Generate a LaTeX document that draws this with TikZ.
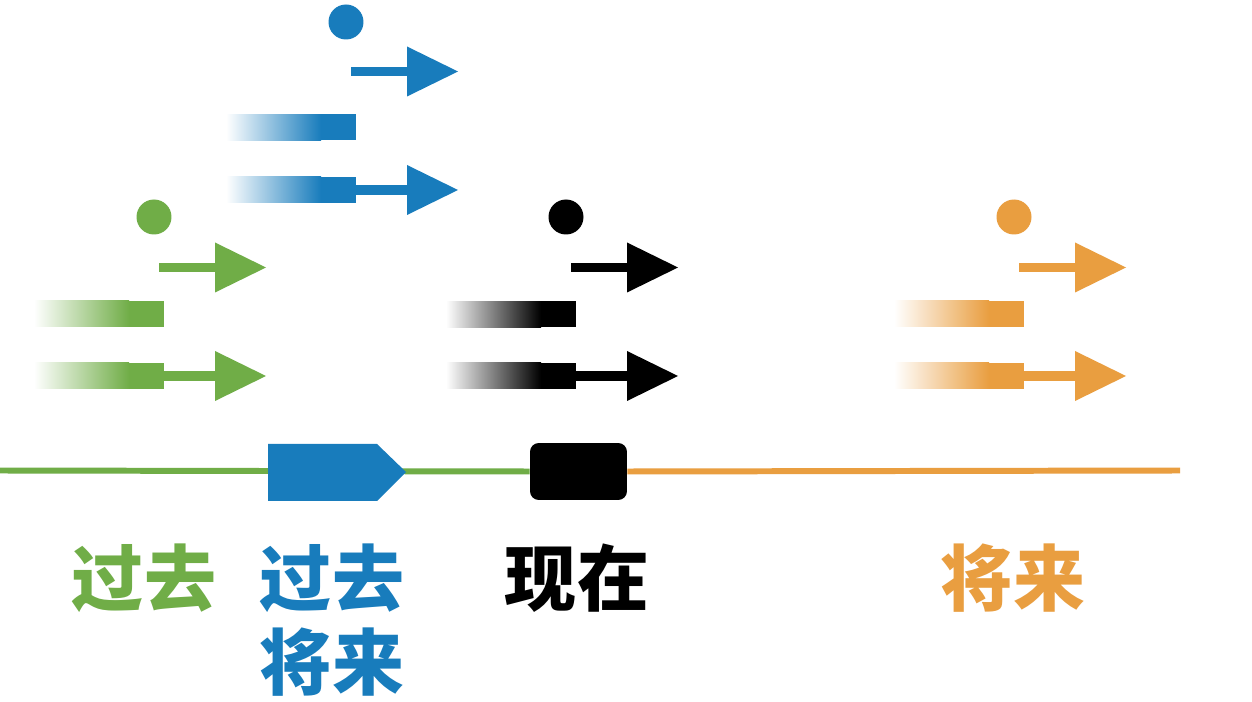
\documentclass[tikz,border=0pt]{standalone}
\usepackage{fontspec}
\newfontfamily\cjk{Noto Sans CJK SC}
\definecolor{pgreen}{RGB}{112,173,71}
\definecolor{pblue}{RGB}{24,124,188}
\definecolor{porange}{RGB}{233,158,64}
\newcommand\tgroup[6]{% colour, bar right x, dot y, top arrow y, bar y, bottom arrow y
  \fill[#1] (#2-10,#3) circle[radius=0.35cm];
  \fill[#1] (#2-5,#4-4.5) rectangle (#2+52,#4+4.5);
  \fill[#1] (#2+51,#4-25) -- (#2+102,#4) -- (#2+51,#4+25) -- cycle;
  \shade[left color=white,right color=#1] (#2-130,#5-13) rectangle (#2-35,#5+13);
  \fill[#1] (#2-35.5,#5-13) rectangle (#2,#5+13);
  \shade[left color=white,right color=#1] (#2-130,#6-13) rectangle (#2-35,#6+13);
  \fill[#1] (#2-35.5,#6-13) rectangle (#2,#6+13);
  \fill[#1] (#2-1,#6-5) rectangle (#2+52,#6+5);
  \fill[#1] (#2+51,#6-25) -- (#2+102,#6) -- (#2+51,#6+25) -- cycle;
}
\tikzset{
  lab/.style={font=\cjk\bfseries\fontsize{41}{47.6}\selectfont, inner sep=0pt, align=center},
  tl/.style={line width=3.4pt},
}
\begin{document}
\begin{tikzpicture}[x=0.02cm,y=-0.02cm]
\useasboundingbox[fill=white] (0,0) rectangle (1252,702);
% timeline
\coordinate (tstart) at (0,470.5);
\coordinate (tend) at (1180,470.5);
\node[fill=black, rounded corners=5pt, minimum width=1.94cm, minimum height=1.14cm, inner sep=0pt] (now) at (578.5,471.5) {};
\draw[tl, pgreen] (tstart) -- (now.west);
\draw[tl, porange] (now.east) -- (tend);
\fill[pblue] (268,444) -- (377,444) -- (406,472) -- (377,501) -- (268,501) -- cycle;
% groups
\tgroup{pgreen}{164}{217}{267.5}{314}{376}
\tgroup{pblue}{356}{22}{71.5}{127.5}{190}
\tgroup{black}{576}{217}{267.5}{314.5}{376}
\tgroup{porange}{1024}{217}{267.5}{314}{376}
% labels
\node[lab, text=pgreen] (past) at (144,578) {过去};
\node[lab, text=pblue] (pastfut) at (332,620) {过去\\将来};
\node[lab, text=black] (present) at (577,578) {现在};
\node[lab, text=porange] (future) at (1013,578) {将来};
\end{tikzpicture}
\end{document}
